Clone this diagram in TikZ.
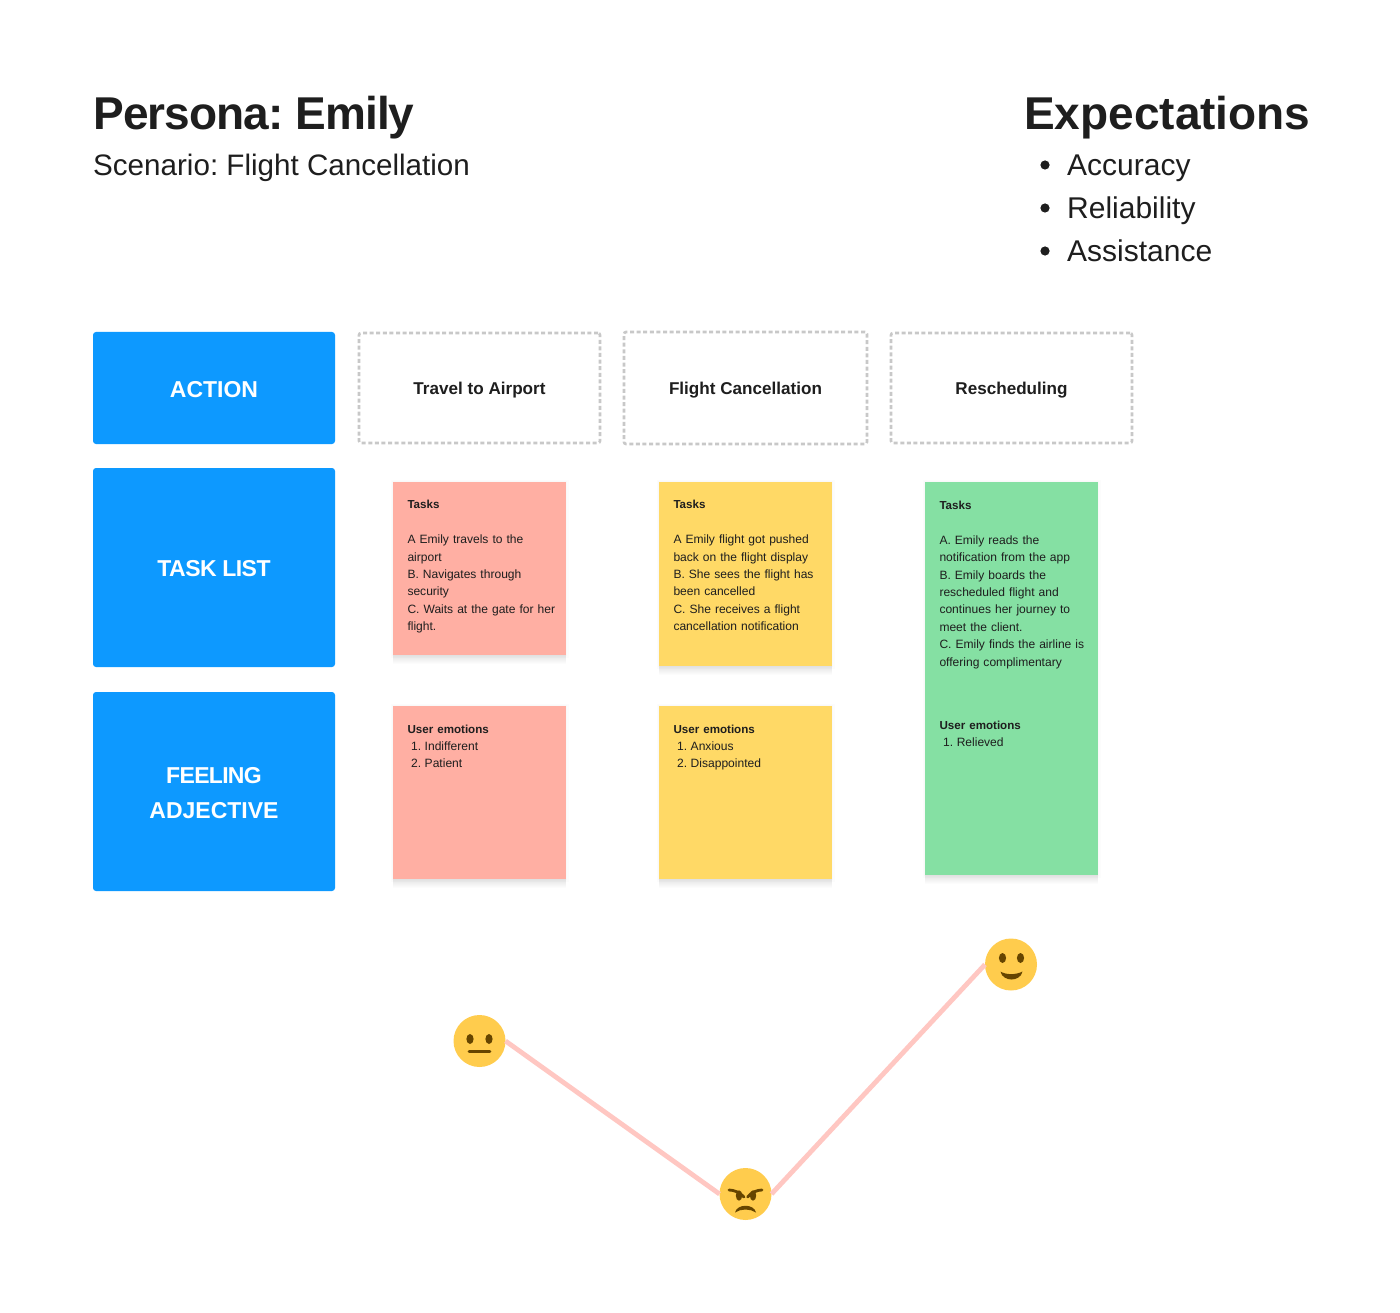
\documentclass[tikz,border=0pt]{standalone}
\usepackage{fontspec}
\setmainfont{Liberation Sans}
\definecolor{ink}{HTML}{1E1E1E}
\definecolor{bluebox}{HTML}{0D99FF}
\definecolor{dashgrey}{HTML}{C8C8C8}
\definecolor{notered}{HTML}{FFAFA3}
\definecolor{noteyellow}{HTML}{FFD966}
\definecolor{notegreen}{HTML}{85E0A3}
\definecolor{facey}{HTML}{FFCC4D}
\definecolor{facedark}{HTML}{664500}
\definecolor{linkpink}{HTML}{FFC7C2}
\tikzset{
  sized/.style 2 args={minimum width=#1 pt,minimum height=#2 pt,inner sep=0pt,outer sep=0pt},
  header/.style={fill=bluebox,rounded corners=3pt,text=white,font=\bfseries\fontsize{23}{35}\selectfont,align=center},
  actionbox/.style={draw=dashgrey,line width=2.6pt,dash pattern=on 4pt off 2.6pt,rounded corners=2pt,text=ink,align=center,font=\bfseries\fontsize{17.1}{22}\selectfont},
  softshadow/.style={preaction={fill=black,fill opacity=.011,transform canvas={yshift=-#1pt}}},
  sticky/.style={rectangle,anchor=north west,inner sep=0pt,outer sep=0pt,
    preaction={draw=black,draw opacity=.012,line width=5pt},
    preaction={draw=black,draw opacity=.012,line width=2.5pt},
    softshadow=9,softshadow=8,softshadow=7,softshadow=6,softshadow=5,softshadow=4,softshadow=3,softshadow=2},
  notetext/.style={anchor=north west,inner sep=0pt,outer sep=0pt,text=ink,text width=155pt,align=left,font=\fontsize{12.05}{17.4}\selectfont},
  face/.style={circle,fill=facey,minimum size=52pt,inner sep=0pt,outer sep=0pt},
  link/.style={draw=linkpink,line width=4.8pt},
  title/.style={anchor=base west,inner sep=0pt,text=ink,font=\bfseries\fontsize{46}{50}\selectfont},
  subtitle/.style={anchor=base west,inner sep=0pt,text=ink,font=\fontsize{30}{34}\selectfont},
}
\newcommand{\emolabel}{\textbf{\fontsize{11.6}{17.4}\selectfont User emotions}}
\newcommand{\tasklabel}{\textbf{\fontsize{11.6}{17.4}\selectfont Tasks}}
\newcommand{\numitem}[1]{\hspace*{3.6pt}#1\hspace{3.6pt}}
\newcommand{\headline}[1]{\raisebox{-9.3pt}[0pt][0pt]{#1}}
\newcommand{\actionline}[1]{\raisebox{-6.7pt}[0pt][0pt]{#1}}
\begin{document}
\frenchspacing
\begin{tikzpicture}[x=1pt,y=-1pt]
\useasboundingbox[fill=white] (0,0) rectangle (1400,1313);
\node[title] (persona) at (93,129.5) {\addfontfeatures{LetterSpace=-2}Persona: Emily};
\node[subtitle,font=\fontsize{29.6}{34}\selectfont] (scenario) at (93,176) {Scenario: Flight Cancellation};
\node[title] (expect) at (1024,129.5) {Expectations};
\node[subtitle] (b1) at (1067,176) {Accuracy};
\node[subtitle] (b2) at (1067,219) {Reliability};
\node[subtitle] (b3) at (1067,262) {Assistance};
\foreach \yy in {165,208,251} \fill[ink] (1045,\yy) circle (4.6pt);

\node[header,sized={242}{112}] (action) at (214,388) {\headline{ACTION}};
\node[header,sized={242}{199}] (tasklist) at (214,567.5) {\headline{\addfontfeatures{LetterSpace=-2.5}TASK LIST}};
\node[header,sized={242}{199}] (feeling) at (214,791.5) {\headline{\addfontfeatures{LetterSpace=-3}FEELING}\\\headline{ADJECTIVE}};

\node[actionbox,sized={241}{110}] (a1) at (479.5,388) {\actionline{Travel to Airport}};
\node[actionbox,sized={243}{112}] (a2) at (745.5,388) {\actionline{Flight Cancellation}};
\node[actionbox,sized={241}{110}] (a3) at (1011.5,388) {\actionline{Rescheduling}};

\node[sticky,fill=notered,minimum width=173pt,minimum height=173pt] (n1) at (393,482) {};
\node[sticky,fill=noteyellow,minimum width=173pt,minimum height=184pt] (n2) at (659,482) {};
\node[sticky,fill=notegreen,minimum width=173pt,minimum height=393pt] (n3) at (925,482) {};
\node[sticky,fill=notered,minimum width=173pt,minimum height=173pt] (n4) at (393,706) {};
\node[sticky,fill=noteyellow,minimum width=173pt,minimum height=173pt] (n5) at (659,706) {};

\node[notetext] (t1) at (407.5,500.5) {\tasklabel\\[17.4pt]A Emily travels to the\\airport\\B. Navigates through\\security\\C. Waits at the gate for her\\flight.};
\node[notetext] (t2) at (673.5,500.5) {\tasklabel\\[17.4pt]A Emily flight got pushed\\back on the flight display\\B. She sees the flight has\\been cancelled\\C. She receives a flight\\cancellation notification};
\node[notetext] (t3) at (939.5,501) {\tasklabel\\[17.4pt]A. Emily reads the\\notification from the app\\B. Emily boards the\\rescheduled flight and\\continues her journey to\\meet the client.\\C. Emily finds the airline is\\offering complimentary};
\node[notetext] (t3b) at (939.5,721) {\emolabel\\\numitem{1.}Relieved};
\node[notetext] (t4) at (407.5,724.6) {\emolabel\\\numitem{1.}Indifferent\\\numitem{2.}Patient};
\node[notetext] (t5) at (673.5,724.6) {\emolabel\\\numitem{1.}Anxious\\\numitem{2.}Disappointed};

\node[face] (neutral) at (479.5,1041) {};
\node[face] (angry) at (745.5,1194) {};
\node[face] (happy) at (1011,964.5) {};
\draw[link] (neutral.east) -- (angry.west);
\draw[link] (angry.east) -- (happy.west);

% neutral face
\fill[facedark] (470,1039) ellipse (3.6pt and 5pt) (489,1039) ellipse (3.6pt and 5pt);
\draw[facedark,line width=2.8pt,line cap=round] (469,1051.3) -- (490,1051.3);
% happy face
\fill[facedark] (1002.5,958) ellipse (3.6pt and 5pt) (1020.5,958) ellipse (3.6pt and 5pt);
\fill[facedark] (1000.5,971.5) .. controls (1006,975) and (1016,975) .. (1022.5,971.5) .. controls (1021.5,977) and (1016,979.5) .. (1011.5,979.5) .. controls (1007,979.5) and (1001.5,977) .. (1000.5,971.5) -- cycle;
% angry face
\fill[facedark] (739,1195.5) ellipse (3.2pt and 5.2pt) (753,1195.5) ellipse (3.2pt and 5.2pt);
\draw[facedark,line width=2.8pt,line cap=round] (729,1190) .. controls (734,1190) and (740,1192.5) .. (744,1197);
\draw[facedark,line width=2.8pt,line cap=round] (762,1190) .. controls (757,1190) and (751,1192.5) .. (747.5,1197);
\fill[facedark] (735,1212.5) .. controls (737,1203.5) and (754,1203.5) .. (756,1212.5) .. controls (750,1208.5) and (741,1208.5) .. (735,1212.5) -- cycle;
\end{tikzpicture}
\end{document}
